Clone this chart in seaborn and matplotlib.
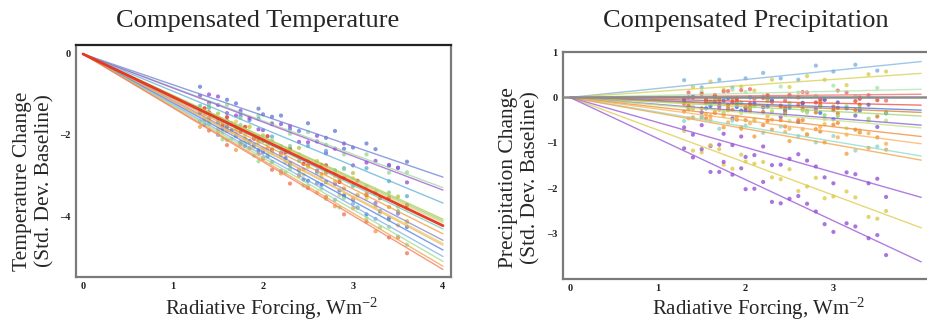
import numpy as np
import pandas as pd
import matplotlib
matplotlib.use("Agg")
import matplotlib.pyplot as plt
import seaborn as sns

sns.set_theme(style="white")
plt.rcParams["font.family"] = ["Liberation Serif", "DejaVu Serif"]
plt.rcParams["mathtext.fontset"] = "custom"
plt.rcParams["mathtext.rm"] = "Liberation Serif"
plt.rcParams["mathtext.it"] = "Liberation Serif:italic"

# Forcing levels at which the perturbed runs were sampled (W m^-2)
XA = [1.3, 1.5, 1.7, 1.85, 2.0, 2.2, 2.4, 2.6, 2.8, 3.0, 3.25, 3.5]
XB = [1.4, 1.6, 1.75, 1.95, 2.1, 2.3, 2.5, 2.7, 2.9, 3.15, 3.4, 3.6]
XC = [1.35, 1.55, 1.65, 1.8, 1.9, 2.05, 2.25, 2.45, 2.65, 2.85, 3.05, 3.3]
GRIDS = {"A": XA, "B": XB, "AB": XA + XB, "AC": XA + XC, "BC": XB + XC}
X_FIT_END = 4.0

# ---------------- Compensated temperature ----------------
temp_names = [f"T{i}" for i in range(1, 19)]
temp_slopes = [-0.76, -0.825, -0.84, -0.92, -1.02, -1.03, -1.04, -1.06, -1.08,
               -1.11, -1.15, -1.17, -1.18, -1.21, -1.25, -1.28, -1.31, -1.33]
temp_colors = ["#6a7fd6", "#9ed99e", "#9a55d6", "#5fb0d8", "#b5c84a", "#8fd48f",
               "#e3cf5a", "#e8321e", "#6cc7b8", "#f29a3a", "#8f7fc8", "#d9cf66",
               "#f5b35a", "#4f7fe8", "#7fb0ea", "#9fdc8c", "#f4a04a", "#f27a5a"]
temp_grid = ["AB", "B", "AB", "B", "A", "B", "A", "BC", "A",
             "BC", "A", "BC", "A", "BC", "A", "BC", "A", "B"]
temp_points = [
    [-0.81, -1.26, -1.22, -1.63, -1.49, -1.52, -1.90, -2.16, -1.90, -2.31, -2.35, -2.81,
     -1.21, -1.13, -1.54, -1.35, -1.55, -1.85, -1.71, -2.07, -2.34, -2.21, -2.76, -2.66],
    [-1.26, -1.26, -1.58, -1.52, -1.70, -1.97, -1.93, -2.24, -2.48, -2.48, -2.93, -2.92],
    [-1.03, -1.05, -1.52, -1.58, -1.88, -1.73, -2.17, -2.02, -2.34, -2.75, -2.64, -2.81,
     -1.00, -1.46, -1.40, -1.86, -1.73, -1.78, -2.18, -2.45, -2.21, -2.68, -2.74, -3.17],
    [-1.33, -1.65, -1.46, -1.60, -2.04, -2.33, -2.27, -2.39, -2.82, -2.82, -3.14, -3.51],
    [-1.43, -1.47, -1.87, -1.80, -2.01, -2.31, -2.32, -2.66, -2.95, -2.94, -3.44, -3.52],
    [-1.32, -1.73, -1.75, -2.16, -2.14, -2.27, -2.63, -2.90, -2.84, -3.27, -3.42, -3.81],
    [-1.38, -1.68, -1.67, -1.79, -2.15, -2.43, -2.48, -2.64, -3.01, -3.07, -3.39, -3.77],
    [-1.44, -1.56, -1.92, -2.09, -2.36, -2.36, -2.75, -2.75, -3.06, -3.49, -3.54, -3.73,
     -1.34, -1.77, -1.73, -1.80, -2.09, -2.03, -2.43, -2.71, -2.74, -3.16, -3.13, -3.56],
    [-1.28, -1.70, -1.79, -2.15, -2.14, -2.28, -2.64, -2.93, -2.87, -3.26, -3.43, -3.88],
    [-1.58, -1.90, -1.84, -2.04, -2.40, -2.69, -2.76, -2.94, -3.32, -3.45, -3.78, -4.13,
     -1.62, -1.69, -1.71, -2.09, -2.05, -2.33, -2.35, -2.85, -2.96, -3.08, -3.49, -3.55],
    [-1.46, -1.59, -2.02, -2.15, -2.43, -2.45, -2.86, -2.88, -3.21, -3.60, -3.68, -3.94],
    [-1.74, -1.81, -2.19, -2.19, -2.43, -2.76, -2.80, -3.17, -3.48, -3.57, -4.10, -4.16,
     -1.49, -1.94, -1.91, -2.00, -2.30, -2.26, -2.67, -2.98, -3.03, -3.48, -3.47, -3.92],
    [-1.41, -1.85, -1.96, -2.33, -2.34, -2.50, -2.88, -3.19, -3.15, -3.56, -3.76, -4.23],
    [-1.65, -1.80, -2.18, -2.38, -2.67, -2.70, -3.13, -3.16, -3.50, -3.96, -4.05, -4.27,
     -1.75, -1.85, -1.88, -2.27, -2.24, -2.53, -2.57, -3.10, -3.23, -3.37, -3.79, -3.88],
    [-1.66, -2.00, -2.03, -2.18, -2.57, -2.89, -2.98, -3.19, -3.60, -3.70, -4.07, -4.51],
    [-1.67, -2.13, -2.19, -2.65, -2.67, -2.84, -3.25, -3.58, -3.56, -4.05, -4.27, -4.71,
     -1.64, -2.11, -2.09, -2.19, -2.51, -2.48, -2.92, -3.25, -3.32, -3.79, -3.80, -4.28],
    [-1.80, -1.91, -2.37, -2.33, -2.59, -2.95, -3.01, -3.42, -3.76, -3.81, -4.38, -4.54],
    [-1.89, -2.25, -2.23, -2.46, -2.86, -3.20, -3.31, -3.53, -3.96, -4.14, -4.53, -4.92],
]
temp_bold = "T8"

# ---------------- Compensated precipitation ----------------
prec_names = [f"P{i}" for i in range(1, 18)]
prec_slopes = [0.1975, 0.1325, 0.045, 0.0175, -0.0425, -0.07, -0.0825, -0.1025,
               -0.1525, -0.1675, -0.215, -0.255, -0.3225, -0.345, -0.55, -0.7175, -0.905]
prec_colors = ["#7fb3df", "#d6cf4f", "#a8e6a8", "#f06a6a", "#ee4a3a", "#3f6fe6",
               "#e07a20", "#9ed46a", "#7f5fd8", "#c4e27a", "#f08a30", "#f7b25a",
               "#8fd8c8", "#f2a040", "#9652d6", "#dccb4a", "#9652d6"]
prec_grid = ["A", "B", "A", "BC", "AC", "BC", "AC", "BC", "A", "B", "AC", "BC", "A", "B",
             "AB", "AB", "AB"]
prec_points = [
    [0.38, 0.22, 0.39, 0.22, 0.42, 0.54, 0.42, 0.39, 0.70, 0.57, 0.72, 0.59],
    [0.23, 0.35, 0.17, 0.24, 0.15, 0.39, 0.23, 0.47, 0.39, 0.27, 0.51, 0.57],
    [-0.04, 0.13, -0.06, 0.17, 0.12, 0.03, 0.24, 0.11, 0.04, 0.26, 0.03, 0.21],
    [-0.01, -0.09, 0.13, 0.16, -0.03, -0.10, 0.06, 0.11, -0.05, 0.11, 0.05, -0.07,
     0.11, -0.10, 0.05, 0.14, -0.05, 0.18, 0.00, -0.07, 0.12, -0.09, 0.15, 0.00],
    [-0.02, 0.08, -0.13, -0.10, -0.22, -0.01, -0.20, 0.00, -0.11, -0.28, -0.08, -0.06,
     -0.18, -0.04, 0.05, -0.17, -0.02, -0.14, 0.05, -0.23, -0.13, -0.04, -0.23, -0.03],
    [0.02, -0.19, -0.07, -0.29, -0.13, -0.06, -0.23, -0.31, -0.05, -0.24, -0.16, -0.35,
     0.00, -0.24, -0.10, -0.02, -0.21, 0.00, -0.20, -0.28, -0.12, -0.34, -0.11, -0.29],
    [-0.14, -0.24, -0.04, -0.02, -0.24, -0.32, -0.18, -0.16, -0.33, -0.20, -0.28, -0.42,
     -0.23, -0.10, -0.02, -0.24, -0.10, -0.22, -0.04, -0.33, -0.24, -0.16, -0.35, -0.16],
    [-0.24, -0.10, -0.32, -0.11, -0.19, -0.31, -0.13, -0.29, -0.39, -0.20, -0.47, -0.32,
     -0.26, -0.13, -0.05, -0.28, -0.14, -0.26, -0.08, -0.38, -0.29, -0.21, -0.41, -0.23],
    [-0.06, -0.33, -0.20, -0.46, -0.29, -0.22, -0.43, -0.54, -0.25, -0.48, -0.40, -0.65],
    [-0.20, -0.13, -0.35, -0.35, -0.48, -0.31, -0.52, -0.34, -0.48, -0.68, -0.51, -0.51],
    [-0.31, -0.44, -0.27, -0.27, -0.50, -0.61, -0.50, -0.50, -0.70, -0.60, -0.71, -0.88,
     -0.20, -0.46, -0.34, -0.28, -0.49, -0.30, -0.52, -0.64, -0.50, -0.75, -0.56, -0.77],
    [-0.24, -0.49, -0.40, -0.65, -0.52, -0.49, -0.69, -0.81, -0.59, -0.82, -0.79, -1.02,
     -0.46, -0.37, -0.30, -0.55, -0.43, -0.57, -0.42, -0.76, -0.70, -0.65, -0.88, -0.73],
    [-0.52, -0.42, -0.69, -0.51, -0.62, -0.78, -0.64, -0.85, -0.99, -0.85, -1.17, -1.08],
    [-0.44, -0.41, -0.66, -0.69, -0.86, -0.71, -0.96, -0.82, -0.99, -1.24, -1.11, -1.15],
    [-0.66, -0.61, -1.04, -1.05, -1.31, -1.08, -1.48, -1.25, -1.52, -1.89, -1.69, -1.79,
     -0.82, -1.07, -0.80, -0.86, -1.27, -1.49, -1.35, -1.39, -1.76, -1.65, -1.89, -2.19],
    [-0.74, -1.21, -1.14, -1.57, -1.41, -1.42, -1.80, -2.06, -1.77, -2.18, -2.20, -2.67,
     -1.17, -1.05, -1.48, -1.26, -1.46, -1.76, -1.58, -1.96, -2.22, -2.07, -2.63, -2.50],
    [-1.12, -1.14, -1.64, -1.70, -2.02, -1.86, -2.33, -2.17, -2.51, -2.96, -2.84, -3.03,
     -1.32, -1.64, -1.42, -1.56, -2.01, -2.30, -2.23, -2.34, -2.79, -2.77, -3.10, -3.47],
]

SERIF = ["Liberation Serif", "DejaVu Serif"]


def long_tables(names, slopes, grids, points):
    pts, fits = [], []
    for name, slope, g, ys in zip(names, slopes, grids, points):
        xs = GRIDS[g]
        pts.append(pd.DataFrame({"series": name, "x": xs, "y": ys}))
        xf = np.array([0.0, X_FIT_END])
        fits.append(pd.DataFrame({"series": name, "x": xf, "y": slope * xf}))
    return pd.concat(pts, ignore_index=True), pd.concat(fits, ignore_index=True)


def draw_panel(ax, names, slopes, colors, grids, points, bold=None):
    pts, fits = long_tables(names, slopes, grids, points)
    pal = dict(zip(names, colors))
    sns.scatterplot(data=pts, x="x", y="y", hue="series", palette=pal, s=9,
                    linewidth=0, alpha=0.8, legend=False, ax=ax, zorder=2)
    for name in names:
        sub = fits[fits["series"] == name]
        thick = name == bold
        sns.lineplot(data=sub, x="x", y="y", color=pal[name], sort=False,
                     estimator=None, lw=2.0 if thick else 1.0,
                     alpha=0.95 if thick else 0.75, ax=ax, zorder=4 if thick else 3)


def tick_text(v):
    return f"{v:g}".replace("-", "\u2013")


def style_axes(ax, xticks, yticks, top_color):
    ax.set_xlabel("")
    ax.set_ylabel("")
    ax.set_xticks(xticks)
    ax.set_yticks(yticks)
    ax.set_xticklabels([tick_text(v) for v in xticks])
    ax.set_yticklabels([tick_text(v) for v in yticks])
    for lab in ax.get_xticklabels() + ax.get_yticklabels():
        lab.set_fontfamily(SERIF)
        lab.set_fontweight("bold")
        lab.set_fontsize(7.5)
        lab.set_color("#222222")
    ax.tick_params(axis="both", length=2.5, width=0.8, color="#666666",
                   direction="inout", pad=2.5)
    for side, sp in ax.spines.items():
        sp.set_visible(True)
        sp.set_color("#7a7a7a")
        sp.set_linewidth(1.6)
    ax.spines["top"].set_color(top_color)
    ax.grid(False)


W, H = 927, 323
fig = plt.figure(figsize=(W / 100, H / 100), dpi=100)

ax1 = fig.add_axes([76 / W, (H - 277) / H, 375 / W, 232 / H])
draw_panel(ax1, temp_names, temp_slopes, temp_colors, temp_grid, temp_points, bold=temp_bold)
ax1.set_xlim(-0.078, 4.089)
ax1.set_ylim(-5.506, 0.222)
style_axes(ax1, [0, 1, 2, 3, 4], [0, -2, -4], "#222222")

ax2 = fig.add_axes([562.7 / W, (H - 278.7) / H, (935 - 562.7) / W, (278.7 - 52) / H])
ax2.axhline(0, color="#8c8c8c", lw=1.8, zorder=3.5)
draw_panel(ax2, prec_names, prec_slopes, prec_colors, prec_grid, prec_points)
ax2.set_xlim(-0.083, 4.157)
ax2.set_ylim(-3.99, 1.0)
style_axes(ax2, [0, 1, 2, 3], [1, 0, -1, -2, -3], "#7a7a7a")

# Titles and axis labels
fig.text(258 / W, 1 - 21 / H, "Compensated Temperature", ha="center", va="center",
         fontsize=19, family=SERIF)
fig.text(746 / W, 1 - 21 / H, "Compensated Precipitation", ha="center", va="center",
         fontsize=19, family=SERIF)
for cx in (272, 759):
    fig.text(cx / W, 1 - 309 / H, r"Radiative Forcing, Wm$^{\mathrm{-2}}$", ha="center",
             va="center", fontsize=15, family=SERIF)
fig.text(34 / W, 1 - 181 / H, "Temperature Change\n(Std. Dev. Baseline)", ha="center",
         va="center", rotation=90, fontsize=15.5, family=SERIF, linespacing=1.2)
fig.text(520 / W, 1 - 178 / H, "Precipitation Change\n(Std. Dev. Baseline)", ha="center",
         va="center", rotation=90, fontsize=15.5, family=SERIF, linespacing=1.2)

fig.savefig("out.png", dpi=100, facecolor="white")
